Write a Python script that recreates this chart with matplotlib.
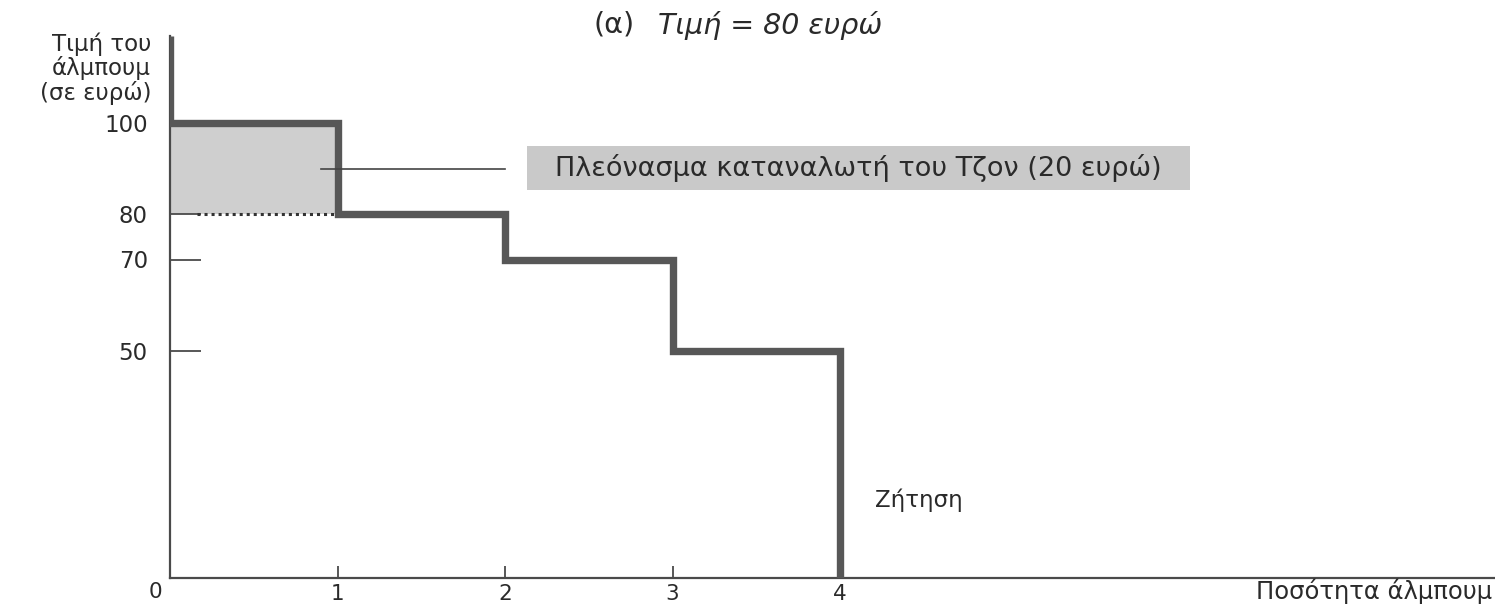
import matplotlib
matplotlib.use("Agg")
import matplotlib.pyplot as plt
from matplotlib.patches import Rectangle

# Data
quantities = [0, 1, 2, 3, 4]
prices = [100, 80, 70, 50, 0]
market_price = 80
y_ticks = [50, 70, 80, 100]
x_ticks = [1, 2, 3, 4]
surplus_label = 'Πλεόνασμα καταναλωτή του Τζον (20 ευρώ)'

plt.rcParams['font.family'] = ['DejaVu Sans']

W, H = 1495, 605
fig = plt.figure(figsize=(W / 100, H / 100), dpi=100)
x0_px, unit_x = 170, 167.5
y0_px, unit_y = 578, 4.55
xmax = (W - x0_px) / unit_x
ymax = (y0_px - 36) / unit_y
ax = fig.add_axes([x0_px / W, (H - y0_px) / H, 1 - x0_px / W, (y0_px - 36) / H])
ax.set_xlim(0, xmax)
ax.set_ylim(0, ymax)

def fx(px):
    return px / W

def fy(py):
    return 1 - py / H

line_col = '#575757'
axis_col = '#4a4a4a'
text_col = '#2a2a2a'

# demand step curve
xs = [quantities[0]]
ys = [ymax]
for i, q in enumerate(quantities[:-1]):
    xs += [q, quantities[i + 1]]
    ys += [prices[i], prices[i]]
xs += [quantities[-1]]
ys += [prices[-1]]
ax.plot(xs, ys, color=line_col, lw=5.3, solid_joinstyle='miter', solid_capstyle='butt', zorder=4)

# consumer surplus shading
ax.add_patch(Rectangle((quantities[0], market_price), quantities[1] - quantities[0],
                       prices[0] - market_price, facecolor='#cfcfcf', edgecolor='none', zorder=1))
ax.plot([0.16, quantities[1]], [market_price, market_price], color='#333333', lw=2.2,
        linestyle=(0, (1, 1.3)), zorder=3)

# spines
for s in ['top', 'right']:
    ax.spines[s].set_visible(False)
for s in ['left', 'bottom']:
    ax.spines[s].set_color(axis_col)
    ax.spines[s].set_linewidth(1.6)

ax.set_yticks(y_ticks)
ax.set_yticklabels([str(v) for v in y_ticks], fontsize=16.5, color=text_col)
ax.tick_params(axis='y', direction='in', length=22, width=1.3, color=axis_col, pad=16)
ax.set_xticks(x_ticks)
ax.set_xticklabels([str(v) for v in x_ticks], fontsize=15.5, color=text_col)
ax.tick_params(axis='x', direction='in', length=9, width=1.3, color=axis_col, pad=4)

fig.text(fx(155), fy(592), '0', fontsize=15.5, ha='center', va='center', color=text_col)

# annotation
ax.plot([0.9, 2.0], [90, 90], color='#444444', lw=1.2, zorder=5)
bx0, bx1 = (527 - x0_px) / unit_x, (1190 - x0_px) / unit_x
by0, by1 = (y0_px - 190) / unit_y, (y0_px - 146) / unit_y
ax.add_patch(Rectangle((bx0, by0), bx1 - bx0, by1 - by0, facecolor='#c9c9c9', edgecolor='none', zorder=5))
ax.text((bx0 + bx1) / 2, (by0 + by1) / 2, surplus_label, fontsize=19.5, ha='center', va='center',
        color=text_col, zorder=6)

fig.text(fx(875), fy(500), 'Ζήτηση', fontsize=16.5, ha='left', va='center', color=text_col)

fig.text(fx(1492), fy(591), 'Ποσότητα άλμπουμ', fontsize=17.5, ha='right', va='center', color=text_col)
fig.text(fx(151), fy(32), 'Τιμή του\nάλμπουμ\n(σε ευρώ)', fontsize=16.5, ha='right', va='top',
         linespacing=1.05, color=text_col)

# title
fig.text(fx(635), fy(25), '(α)', fontsize=20.5, ha='right', va='center', color=text_col)
fig.text(fx(658), fy(25), 'Τιμή = 80 ευρώ', fontsize=20.5, style='italic', ha='left', va='center',
         color=text_col)

fig.savefig('out.png', dpi=100)
